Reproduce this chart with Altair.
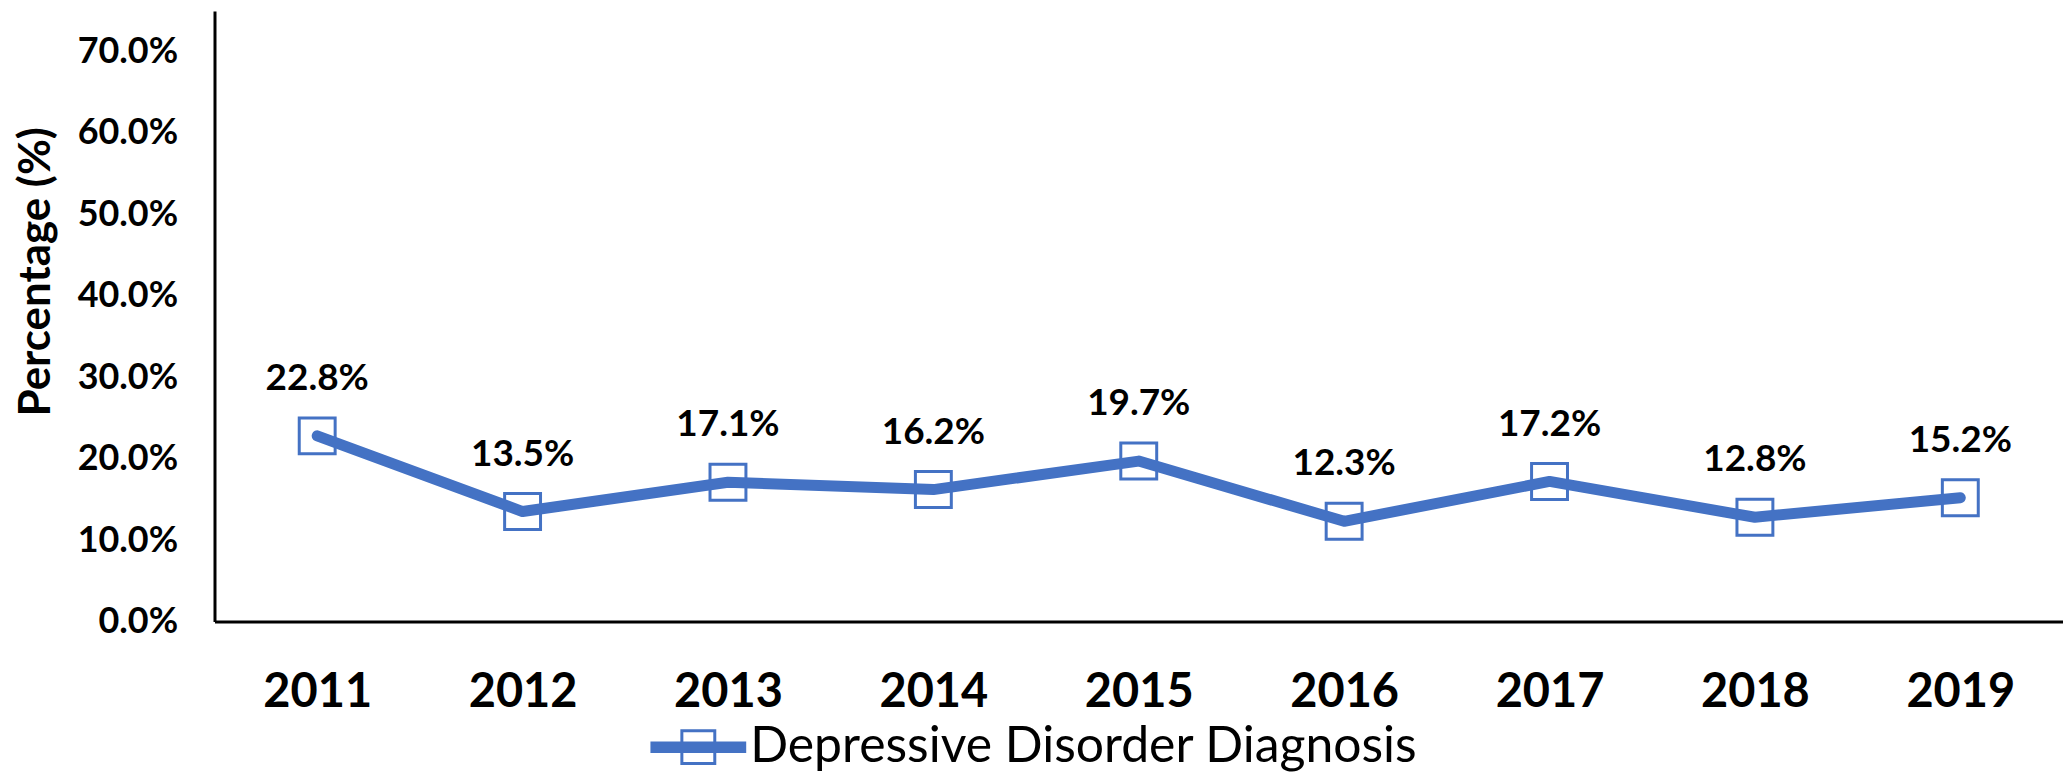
import altair as alt
import pandas as pd

years = ["2011", "2012", "2013", "2014", "2015", "2016", "2017", "2018", "2019"]
values = [0.228, 0.135, 0.171, 0.162, 0.197, 0.123, 0.172, 0.128, 0.152]
series_name = "Depressive Disorder Diagnosis"
y_ticks = [0.0, 0.1, 0.2, 0.3, 0.4, 0.5, 0.6, 0.7]

df = pd.DataFrame({"year": years, "value": values, "series": [series_name] * len(years)})

BLUE = "#4472C4"
FONT = "Lato"

legend_path = ("M-1,-0.12H1V0.12H-1Z "
               "M-0.375,-0.375H0.375V0.375H-0.375Z "
               "M-0.3125,-0.3125V0.3125H0.3125V-0.3125Z")

x_enc = alt.X("year:O", title=None, sort=years,
              scale=alt.Scale(type="point", padding=0.5),
              axis=alt.Axis(labelAngle=0, labelFont=FONT, labelFontSize=47, labelFontWeight="bold",
                            labelColor="black", ticks=False, tickSize=0, labelPadding=71,
                            labelBaseline="middle", domainColor="black", domainWidth=3, grid=False))
y_enc = alt.Y("value:Q", title="Percentage (%)",
              scale=alt.Scale(domain=[0, 0.75], nice=False),
              axis=alt.Axis(values=y_ticks, format=".1%", labelFont=FONT, labelFontSize=36,
                            labelFontWeight="bold", labelColor="black", ticks=False, tickSize=0,
                            labelPadding=37, domainColor="black", domainWidth=3, grid=False,
                            titleFont=FONT, titleFontSize=44, titleFontWeight="bold", titleColor="black",
                            titleAngle=270, titleAlign="center", titleBaseline="middle",
                            titleX=-178, titleY=261))

base = alt.Chart(df).encode(x=x_enc, y=y_enc)

points = base.mark_point(shape="square", filled=False, size=1296, strokeWidth=3, color=BLUE, opacity=1)

line = base.mark_line(strokeWidth=11, strokeCap="round", strokeJoin="round").encode(
    color=alt.Color("series:N", scale=alt.Scale(range=[BLUE]),
                    legend=alt.Legend(orient="none", legendX=437, legendY=690, title=None,
                                      symbolType=legend_path, symbolSize=9216,
                                      symbolFillColor=BLUE, symbolStrokeWidth=0,
                                      labelFont=FONT, labelFontSize=50, labelColor="black",
                                      labelOffset=4, labelLimit=0))
)

labels = base.mark_text(dy=-57, font=FONT, fontSize=37, fontWeight="bold", color="black",
                        baseline="middle").encode(text=alt.Text("value:Q", format=".1%"))

chart = alt.layer(points, line, labels).properties(
    width=1853, height=612,
    autosize=alt.AutoSizeParams(type="none"),
    padding={"left": 207, "top": 2, "right": 0, "bottom": 152},
    background="white",
).configure_view(strokeOpacity=0)

chart.save("out.html", embed_options={"renderer": "svg", "actions": False})
